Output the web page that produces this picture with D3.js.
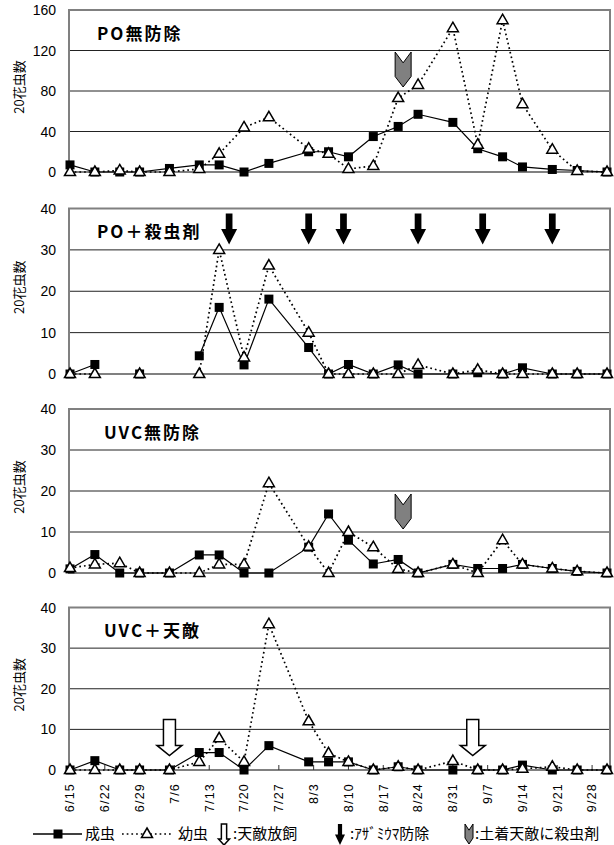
<!DOCTYPE html>
<html>
<head>
<meta charset="utf-8">
<script src="https://cdn.jsdelivr.net/npm/d3@7"></script>
<style>
  body { margin: 0; background: #fff; }
  text { font-family: "Liberation Sans", Arial, sans-serif; }
  .jp { font-family: "Noto Sans CJK JP", sans-serif; }
</style>
</head>
<body>
<svg id="chart" width="614" height="845"></svg>
<script>
// sampling dates (month/day)
var dates = ["6/15","6/20","6/25","6/29","7/5","7/11","7/15","7/20","7/25","8/2","8/6",
             "8/10","8/15","8/20","8/24","8/31","9/5","9/10","9/14","9/20","9/25","10/1"];

var panelNames = ["PO無防除", "PO＋殺虫剤", "UVC無防除", "UVC＋天敵"];
var yMax = [160, 40, 40, 40];
var yStep = [40, 10, 10, 10];

// 成虫 (adults)
var adults = [
  [7,0,0,0,3.5,7,7,0,8.5,20,20,15,35,45,57,49,23,15,5,2.5,1.5,0],
  [0,2.3,null,0,null,4.4,16.1,2.2,18.1,6.4,0,2.3,0,2.2,0,0,0.3,0,1.5,0,0,0],
  [1,4.5,0,0,0,4.4,4.4,0,0,6.3,14.4,8,2.2,3.3,0,2.1,1.1,1.1,2.1,1.1,0.4,0],
  [0,2.3,0,0,0,4.3,4.3,0,6,2,2,2,0,0.8,0,0,0,0,1.2,0,0,0]
];
// 幼虫 (larvae)
var larvae = [
  [0,0,1.5,0,0,3,18,44,54,23,18,3,6,73,86,142,27,150,67,22,1,0],
  [0,0,null,0,null,0,30,4,26.2,10,0,0,0,0,2.2,0,1,0,0,0,0,0],
  [1.2,2.1,2.4,0,0,0,2.1,2.1,21.9,6.4,0,10,6.3,1,0,2.1,0,8,2.1,1.1,0.4,0],
  [0,0,0,0,0,2,7.8,2,35.9,12,4.1,2,0,0.8,0,2.2,0,0,0.3,0.8,0,0]
];

// event markers
var thripsControl = ["7/17","8/2","8/9","8/24","9/6","9/20"];   // panel 2, black arrows
var soilSpray = [["8/21"], [], ["8/21"], []];                   // grey chevrons
var enemyRelease = ["7/5","9/4"];                                 // panel 4, hollow arrows

var tickLabels = ["6/15","6/22","6/29","7/6","7/13","7/20","7/27","8/3","8/10",
                  "8/17","8/24","8/31","9/7","9/14","9/21","9/28"];

var parse = function (d) { return d3.timeParse("%Y/%m/%d")("2009/" + d); };

var svg = d3.select("#chart");
var plotLeft = 69, plotRight = 610;
var panels = [[10, 172], [208.5, 374], [409, 573], [607.5, 770]];

var x = d3.scaleTime()
  .domain([parse("6/15"), parse("10/1")])
  .range([70, 607]);

function blackArrow(g, cx, y0, h, w) {
  var sw = w * 0.42, hh = h * 0.5;
  g.append("path")
    .attr("d", "M" + (cx - sw/2) + "," + y0 + "L" + (cx + sw/2) + "," + y0 +
      "L" + (cx + sw/2) + "," + (y0 + h - hh) + "L" + (cx + w/2) + "," + (y0 + h - hh) +
      "L" + cx + "," + (y0 + h) + "L" + (cx - w/2) + "," + (y0 + h - hh) +
      "L" + (cx - sw/2) + "," + (y0 + h - hh) + "Z")
    .attr("fill", "#000");
}

function hollowArrow(g, cx, y0, h, w) {
  var sw = w * 0.48, hh = h * 0.28;
  g.append("path")
    .attr("d", "M" + (cx - sw/2) + "," + y0 + "L" + (cx + sw/2) + "," + y0 +
      "L" + (cx + sw/2) + "," + (y0 + h - hh) + "L" + (cx + w/2) + "," + (y0 + h - hh) +
      "L" + cx + "," + (y0 + h) + "L" + (cx - w/2) + "," + (y0 + h - hh) +
      "L" + (cx - sw/2) + "," + (y0 + h - hh) + "Z")
    .attr("fill", "#fff")
    .attr("stroke", "#000")
    .attr("stroke-width", 1.5);
}

function chevron(g, cx, y0, h, w) {
  var notch = h * 0.31, side = h * 0.7;
  g.append("path")
    .attr("d", "M" + (cx - w/2) + "," + y0 + "L" + cx + "," + (y0 + notch) +
      "L" + (cx + w/2) + "," + y0 + "L" + (cx + w/2) + "," + (y0 + side) +
      "L" + cx + "," + (y0 + h) + "L" + (cx - w/2) + "," + (y0 + side) + "Z")
    .attr("fill", "#808080")
    .attr("stroke", "#000")
    .attr("stroke-width", 1);
}

panels.forEach(function (pb, p) {
  var pTop = pb[0], pBottom = pb[1];
  var y = d3.scaleLinear().domain([0, yMax[p]]).range([pBottom, pTop]);
  var g = svg.append("g");
  var ticks = d3.range(0, yMax[p] + 1, yStep[p]);

  // gridlines
  g.selectAll(".grid").data(ticks.slice(1, -1)).enter().append("line")
    .attr("x1", plotLeft).attr("x2", plotRight)
    .attr("y1", function (d) { return y(d); })
    .attr("y2", function (d) { return y(d); })
    .attr("stroke", "#222").attr("stroke-width", 1);

  // frame
  g.append("rect")
    .attr("x", plotLeft).attr("y", pTop)
    .attr("width", plotRight - plotLeft).attr("height", pBottom - pTop)
    .attr("fill", "none").attr("stroke", "#808080").attr("stroke-width", 2);

  // y tick labels
  g.selectAll(".yl").data(ticks).enter().append("text")
    .attr("x", 56)
    .attr("y", function (d) { return y(d); })
    .attr("dy", "0.36em")
    .attr("text-anchor", "end")
    .attr("font-size", "14px")
    .text(function (d) { return d; });

  // y title
  g.append("text")
    .attr("class", "jp")
    .attr("transform", "translate(19," + ((pTop + pBottom) / 2 - 4) + ") rotate(-90)")
    .attr("text-anchor", "middle")
    .attr("dy", "0.35em")
    .attr("font-size", "13px")
    .text("20花虫数");

  // panel title
  g.append("text")
    .attr("class", "jp")
    .attr("x", p < 2 ? 97 : 104)
    .attr("y", pTop + 29.5)
    .attr("font-size", "17px")
    .attr("letter-spacing", "2px")
    .attr("font-weight", "bold")
    .text(panelNames[p]);

  // bottom axis ticks on last panel
  if (p == 3) {
    g.selectAll(".xt").data(tickLabels).enter().append("line")
      .attr("x1", function (d) { return x(parse(d)); })
      .attr("x2", function (d) { return x(parse(d)); })
      .attr("y1", pBottom).attr("y2", pBottom - 5)
      .attr("stroke", "#333").attr("stroke-width", 1);
  }

  var adultPts = dates.map(function (d, i) { return {date: parse(d), v: adults[p][i]}; });
  var larvaPts = dates.map(function (d, i) { return {date: parse(d), v: larvae[p][i]}; });

  var line = d3.line()
    .defined(function (d) { return d.v != null; })
    .x(function (d) { return x(d.date); })
    .y(function (d) { return y(d.v); });

  g.append("path").datum(adultPts)
    .attr("d", line).attr("fill", "none")
    .attr("stroke", "#000").attr("stroke-width", 1.2);

  g.append("path").datum(larvaPts)
    .attr("d", line).attr("fill", "none")
    .attr("stroke", "#000").attr("stroke-width", 1.7)
    .attr("stroke-dasharray", "1.7,3");

  g.selectAll(".sq").data(adultPts.filter(function (d) { return d.v != null; }))
    .enter().append("rect")
    .attr("x", function (d) { return x(d.date) - 4.5; })
    .attr("y", function (d) { return y(d.v) - 4.5; })
    .attr("width", 9).attr("height", 9)
    .attr("fill", "#000");

  g.selectAll(".tri").data(larvaPts.filter(function (d) { return d.v != null; }))
    .enter().append("path")
    .attr("transform", function (d) { return "translate(" + x(d.date) + "," + y(d.v) + ")"; })
    .attr("d", "M0,-6L5.5,3.5L-5.5,3.5Z")
    .attr("fill", "#fff").attr("stroke", "#000").attr("stroke-width", 1.5);

  // event markers
  soilSpray[p].forEach(function (d) {
    chevron(g, x(parse(d)), p == 0 ? pTop + 42 : pTop + 85, 35, 16);
  });
  if (p == 1) {
    thripsControl.forEach(function (d) {
      blackArrow(g, x(parse(d)), pTop + 5, 31, 16);
    });
  }
  if (p == 3) {
    enemyRelease.forEach(function (d) {
      hollowArrow(g, x(parse(d)), pTop + 112, 36, 25);
    });
  }
});

// x tick labels
svg.selectAll(".xl").data(tickLabels).enter().append("text")
  .attr("transform", function (d) { return "translate(" + x(parse(d)) + ",783) rotate(-90)"; })
  .attr("text-anchor", "end")
  .attr("dy", "0.35em")
  .attr("font-size", "12.5px")
  .attr("letter-spacing", "1.2px")
  .text(function (d) { return d; });

// legend
var lg = svg.append("g");
var ly = 834;
lg.append("line").attr("x1", 33).attr("x2", 82).attr("y1", ly).attr("y2", ly)
  .attr("stroke", "#000").attr("stroke-width", 1.5);
lg.append("rect").attr("x", 53.5).attr("y", ly - 4.5).attr("width", 9).attr("height", 9).attr("fill", "#000");
lg.append("text").attr("class", "jp").attr("x", 85).attr("y", ly).attr("dy", "0.35em")
  .attr("font-size", "15px").text("成虫");
lg.append("line").attr("x1", 122).attr("x2", 172).attr("y1", ly).attr("y2", ly)
  .attr("stroke", "#000").attr("stroke-width", 1.7).attr("stroke-dasharray", "1.7,3");
lg.append("path").attr("transform", "translate(147," + ly + ")")
  .attr("d", "M0,-6L5.5,3.5L-5.5,3.5Z")
  .attr("fill", "#fff").attr("stroke", "#000").attr("stroke-width", 1.5);
lg.append("text").attr("class", "jp").attr("x", 178).attr("y", ly).attr("dy", "0.35em")
  .attr("font-size", "15px").text("幼虫");
hollowArrow(lg, 224, ly - 10, 21, 11);
lg.append("text").attr("class", "jp").attr("x", 233).attr("y", ly).attr("dy", "0.35em")
  .attr("font-size", "15px").text(":天敵放飼");
blackArrow(lg, 340, ly - 10, 21, 10);
lg.append("text").attr("class", "jp").attr("x", 350).attr("y", ly).attr("dy", "0.35em")
  .attr("font-size", "15px").text(":ｱｻﾞﾐｳﾏ防除");
chevron(lg, 469, ly - 10, 20, 8);
lg.append("text").attr("class", "jp").attr("x", 475).attr("y", ly).attr("dy", "0.35em")
  .attr("font-size", "15px").text(":土着天敵に殺虫剤");
</script>
</body>
</html>
